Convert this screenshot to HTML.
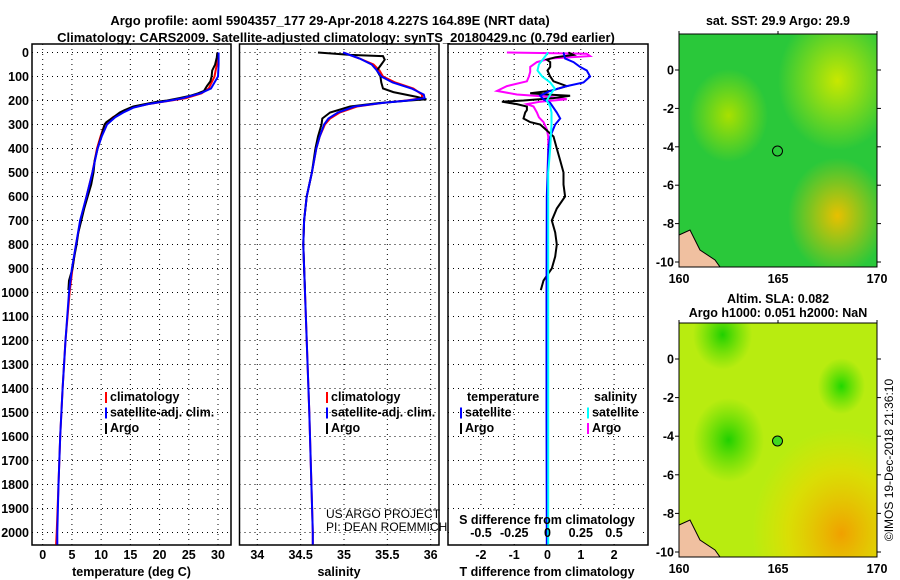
<!DOCTYPE html>
<html><head><meta charset="utf-8"><style>
body{margin:0;background:#fff}
svg{display:block;font-family:"Liberation Sans",sans-serif}
.t{font-weight:bold;font-size:13px}
.k{font-weight:bold;font-size:12.5px}
.g{stroke:#000;stroke-width:1;stroke-dasharray:1 4}
</style></head><body>
<svg id="s" width="900" height="580" viewBox="0 0 900 580">
<defs>
<radialGradient id="sst1" cx="0.8" cy="0.2" r="0.3"><stop offset="0" stop-color="#c8e800"/><stop offset="1" stop-color="#c8e800" stop-opacity="0"/></radialGradient>
<radialGradient id="sst2" cx="0.8" cy="0.78" r="0.25"><stop offset="0" stop-color="#e8c000"/><stop offset="1" stop-color="#e8c000" stop-opacity="0"/></radialGradient>
<radialGradient id="sst3" cx="0.25" cy="0.35" r="0.2"><stop offset="0" stop-color="#a8e000"/><stop offset="1" stop-color="#a8e000" stop-opacity="0"/></radialGradient>
<radialGradient id="sla1" cx="0.82" cy="0.9" r="0.45"><stop offset="0" stop-color="#f0a000"/><stop offset="0.6" stop-color="#e8d800" stop-opacity="0.7"/><stop offset="1" stop-color="#e8e000" stop-opacity="0"/></radialGradient>
<radialGradient id="sla2" cx="0.25" cy="0.5" r="0.18"><stop offset="0" stop-color="#20d000"/><stop offset="1" stop-color="#40d800" stop-opacity="0"/></radialGradient>
<radialGradient id="sla3" cx="0.22" cy="0.05" r="0.15"><stop offset="0" stop-color="#20d000"/><stop offset="1" stop-color="#40d800" stop-opacity="0"/></radialGradient>
<radialGradient id="sla4" cx="0.82" cy="0.27" r="0.12"><stop offset="0" stop-color="#20d800"/><stop offset="1" stop-color="#40d800" stop-opacity="0"/></radialGradient>
</defs>
<text class="t" x="330" y="25" text-anchor="middle">Argo profile: aoml 5904357_177 29-Apr-2018 4.227S 164.89E (NRT data)</text>
<text class="t" x="336" y="42" text-anchor="middle">Climatology: CARS2009. Satellite-adjusted climatology: synTS_20180429.nc (0.79d earlier)</text>
<g id="p1"></g>
<g id="p2"></g>
<g id="p3"></g>
<g>
<text class="k" x="778" y="25" text-anchor="middle">sat. SST: 29.9 Argo: 29.9</text>
<rect x="679" y="34" width="198" height="233" fill="#2ac83a"/>
<rect x="679" y="34" width="198" height="233" fill="url(#sst1)"/>
<rect x="679" y="34" width="198" height="233" fill="url(#sst2)"/>
<rect x="679" y="34" width="198" height="233" fill="url(#sst3)"/>
<path d="M679 235 L690 230 L700 250 L715 260 L720 267 L679 267Z" fill="#f0c0a0" stroke="#000"/>
<circle cx="777.5" cy="151" r="5" fill="none" stroke="#000"/>
<rect x="679" y="34" width="198" height="233" fill="none" stroke="#000"/>
</g>
<g>
<text class="k" x="778" y="303" text-anchor="middle">Altim. SLA: 0.082</text>
<text class="k" x="778" y="317" text-anchor="middle">Argo h1000: 0.051 h2000: NaN</text>
<rect x="679" y="323" width="198" height="234" fill="#b8ec10"/>
<rect x="679" y="323" width="198" height="234" fill="url(#sla1)"/>
<rect x="679" y="323" width="198" height="234" fill="url(#sla2)"/>
<rect x="679" y="323" width="198" height="234" fill="url(#sla3)"/>
<rect x="679" y="323" width="198" height="234" fill="url(#sla4)"/>
<path d="M679 525 L690 520 L700 540 L715 550 L720 557 L679 557Z" fill="#f0c0a0" stroke="#000"/>
<circle cx="777.5" cy="441" r="5" fill="#40d820" stroke="#000"/>
<rect x="679" y="323" width="198" height="234" fill="none" stroke="#000"/>
</g>
<text x="893" y="460" font-size="12" text-anchor="middle" transform="rotate(-90 893 460)">©IMOS 19-Dec-2018 21:36:10</text>
</svg>
<script>
// ---- data (depth in m) ----
const tDepth=[0,50,100,150,170,190,200,215,230,250,270,300,350,400,500,600,700,800,900,1000,1200,1400,1600,1800,2000,2050];
const tClim=[29.9,29.8,29.4,28.4,27.2,24.5,22,18,15.3,13.5,12,10.6,9.9,9.3,8.5,7.5,6.5,5.7,5.1,4.6,3.9,3.4,3.0,2.7,2.4,2.3];
const tSat=[30.1,30.1,30.0,28.8,27.0,24.0,21.8,18,15.5,13.8,12.4,11.0,10.1,9.4,8.5,7.5,6.4,5.7,5.0,4.5,3.9,3.4,3.0,2.7,2.5,2.5];
const aDepth=[0,20,50,75,100,120,140,160,170,180,190,200,205,215,225,240,250,275,290,300,350,400,450,500,550,600,650,700,750,800,850,900,950,990];
const tArgo=[29.9,29.8,29.5,29.0,28.9,28.7,28.1,27.6,26.6,25.3,23.4,21.3,19.6,17.5,15.5,14.0,13.2,11.8,10.9,10.6,10.0,9.4,8.9,8.7,8.3,7.7,7.1,6.6,6.1,5.8,5.4,5.1,4.5,4.4];
const sDepth=[0,25,50,75,100,125,150,175,190,200,210,225,250,275,300,350,400,500,600,700,800,1000,1500,2000,2050];
const sClim=[34.99,35.18,35.34,35.41,35.45,35.59,35.8,35.9,35.9,35.72,35.45,35.15,34.95,34.84,34.78,34.72,34.68,34.63,34.57,34.54,34.53,34.55,34.6,34.64,34.64];
const sSat=[34.99,35.18,35.32,35.38,35.43,35.56,35.78,35.92,35.93,35.74,35.45,35.12,34.93,34.82,34.77,34.72,34.68,34.63,34.57,34.54,34.53,34.55,34.6,34.64,34.64];
const sArgoDepth=[0,10,15,30,50,75,100,125,150,165,185,195,200,210,225,250,275,300,350,400,500,600,700,800,900,990];
const sArgo=[34.7,35.07,35.45,35.47,35.43,35.38,35.42,35.43,35.45,35.57,35.84,35.95,35.76,35.42,35.07,34.84,34.75,34.74,34.7,34.67,34.63,34.57,34.54,34.53,34.54,34.55];
const dTDepth=[0,25,40,60,75,100,125,140,160,180,195,210,250,275,300,350,400,600,1000,1500,2050];
const dTSat=[0.48,0.53,0.78,0.98,1.18,1.28,1.08,0.58,0.08,-0.22,-0.12,0.08,0.28,0.38,0.23,0.08,0.03,-0.02,-0.03,-0.03,-0.02];
const dTArgoDepth=[0,10,20,30,40,60,75,100,120,140,160,170,175,180,190,200,205,215,225,240,250,275,290,300,350,400,450,500,550,600,650,700,750,800,850,900,950,990];
const dTArgo=[0.63,0.78,0.23,-0.02,0.08,0.08,0,0.08,0.18,0.58,0.08,-0.52,-0.02,0.68,0.18,-0.72,-1.37,-0.92,-0.62,-0.62,-0.67,-0.72,-0.52,-0.22,0.18,0.28,0.38,0.48,0.48,0.53,0.28,0.13,0.23,0.28,0.23,0.13,-0.12,-0.2];
const dSDepth=[0,25,50,75,100,125,150,175,200,225,250,300,400,500,1000,2050];
const dSSat=[0.005,-0.03,-0.065,-0.075,-0.04,0.02,0.055,0.02,-0.005,0.02,0.03,0.03,0.02,0.005,0.005,0.005];
const dSArgoDepth=[0,5,15,25,40,60,80,100,120,140,160,175,185,195,205,215,225,250,270,290,320,350,400,500,700,990];
const dSArgo=[-0.305,0.295,0.32,0.02,-0.08,-0.13,-0.13,-0.14,-0.155,-0.305,-0.38,-0.23,0.02,0.145,-0.055,-0.155,-0.105,-0.08,-0.065,-0.03,-0.005,0.005,0.005,0.0,0.0,0.0];
const depthTicks=[0,100,200,300,400,500,600,700,800,900,1000,1100,1200,1300,1400,1500,1600,1700,1800,1900,2000];
const tTicks=[0,5,10,15,20,25,30];
const sTicks=[34,34.5,35,35.5,36];
const dTTicks=[-2,-1,0,1,2];
const dSTicks=[-0.5,-0.25,0,0.25,0.5];
const latTicks=[0,-2,-4,-6,-8,-10];
const lonTicks=[160,165,170];

const NS='http://www.w3.org/2000/svg';
const svg=document.getElementById('s');
function mk(tag,attrs,parent,txt){const e=document.createElementNS(NS,tag);for(const k in attrs)e.setAttribute(k,attrs[k]);if(txt!==undefined)e.textContent=txt;(parent||svg).appendChild(e);return e;}
const Y0=52.5,YK=0.24,YB=545,YT=44;
const yD=d=>Y0+YK*d;
function lin(d0,d1,p0,p1){return v=>p0+(v-d0)*(p1-p0)/(d1-d0);}

function panel(g,x0,x1,xs,ticks,ylabels){
  depthTicks.forEach(d=>{const y=yD(d);
    const l=mk('line',{x1:x0,x2:x1,y1:y,y2:y,class:'g'},g);
    
    if(ylabels){const t=mk('text',{x:x0-3,y:y+4.5,'text-anchor':'end',class:'k'},g,String(d));
      }
  });
  ticks.forEach(v=>{const x=xs(v);
    const l=mk('line',{x1:x,x2:x,y1:YT,y2:YB,class:'g'},g);
    
    const t=mk('text',{x:x,y:YB+14,'text-anchor':'middle',class:'k'},g,String(v));
    
  });
  const r=mk('rect',{x:x0,y:YT,width:x1-x0,height:YB-YT,fill:'none',stroke:'#000','stroke-width':1.5},g);
  
}
function line(g,xs,ds,vs,col,name,w){
  const pts=ds.map((d,i)=>xs(vs[i]).toFixed(1)+','+yD(d).toFixed(1)).join(' ');
  const p=mk('polyline',{points:pts,fill:'none',stroke:col,'stroke-width':w||2},g);
  
}
function legend(g,x,y,items){
  items.forEach((it,i)=>{const yy=y+i*15.5;
    const m=mk('rect',{x:x,y:yy-9,width:2,height:11,fill:it[1]},g);
    
    const t=mk('text',{x:x+5,y:yy,class:'k'},g,it[0]);
    });
}
// panel 1
const g1=document.getElementById('p1');
const xT=lin(0,30,42.7,218);
panel(g1,32,231,xT,tTicks,true);
line(g1,xT,tDepth,tClim,'#f00','temp-climatology-line');
line(g1,xT,aDepth,tArgo,'#000','temp-argo-line');
line(g1,xT,tDepth,tSat,'#00f','temp-satellite-line');
const lt1=mk('text',{x:131.5,y:576,'text-anchor':'middle',class:'k'},g1,'temperature (deg C)');

legend(g1,105,401,[['climatology','#f00'],['satellite-adj. clim.','#00f'],['Argo','#000']]);
// panel 2
const g2=document.getElementById('p2');
const xS=lin(34,36,257.3,430.7);
panel(g2,239.5,439,xS,sTicks,false);
line(g2,xS,sDepth,sClim,'#f00','sal-climatology-line');
line(g2,xS,sArgoDepth,sArgo,'#000','sal-argo-line');
line(g2,xS,sDepth,sSat,'#00f','sal-satellite-line');
const lt2=mk('text',{x:339,y:576,'text-anchor':'middle',class:'k'},g2,'salinity');

legend(g2,326,401,[['climatology','#f00'],['satellite-adj. clim.','#00f'],['Argo','#000']]);
const c1=mk('text',{x:326,y:518,'font-size':12},g2,'US ARGO PROJECT');

const c2=mk('text',{x:326,y:531,'font-size':12},g2,'PI: DEAN ROEMMICH');

// panel 3
const g3=document.getElementById('p3');
const xDT=lin(0,1,547.5,580.8);
const xDS=lin(0,1,547.5,680.5);
panel(g3,448,648,xDT,dTTicks,false);
const bg=mk('rect',{x:452,y:509,width:190,height:32,fill:'#fff'},g3);

line(g3,xDS,dSArgoDepth,dSArgo,'#f0f','sal-diff-argo-line');
line(g3,xDT,dTArgoDepth,dTArgo,'#000','temp-diff-argo-line');
line(g3,xDT,dTDepth,dTSat,'#00f','temp-diff-satellite-line');
line(g3,xDS,dSDepth,dSSat,'#0ff','sal-diff-satellite-line');
dSTicks.forEach(v=>{const t=mk('text',{x:xDS(v),y:537,'text-anchor':'middle',class:'k'},g3,String(v));
  });
const st=mk('text',{x:547,y:524,'text-anchor':'middle',class:'k'},g3,'S difference from climatology');

const lt3=mk('text',{x:547,y:576,'text-anchor':'middle',class:'k'},g3,'T difference from climatology');

const lh1=mk('text',{x:467,y:401,class:'k'},g3,'temperature');

legend(g3,460,416.5,[['satellite','#00f'],['Argo','#000']]);
const lh2=mk('text',{x:594,y:401,class:'k'},g3,'salinity');

legend(g3,587,416.5,[['satellite','#0ff'],['Argo','#f0f']]);
// map axes
function mapAxes(top,bot,lat0y,lat10y){
  const ly=lin(0,-10,lat0y,lat10y), lx=lin(160,170,679,877);
  latTicks.forEach(v=>{const y=ly(v);
    const t=mk('text',{x:674,y:y+4.5,'text-anchor':'end',class:'k'},null,String(v));
    
    mk('line',{x1:877,x2:881,y1:y,y2:y,stroke:'#000'});mk('line',{x1:675,x2:679,y1:y,y2:y,stroke:'#000'});});
  lonTicks.forEach(v=>{const x=lx(v);
    const t=mk('text',{x:x,y:bot+16,'text-anchor':'middle',class:'k','font-size':14},null,String(v));
    
    mk('line',{x1:x,x2:x,y1:top-3,y2:top,stroke:'#000'});});
}
mapAxes(34,267,70,262);
mapAxes(323,557,359,552);
</script>
</body></html>
